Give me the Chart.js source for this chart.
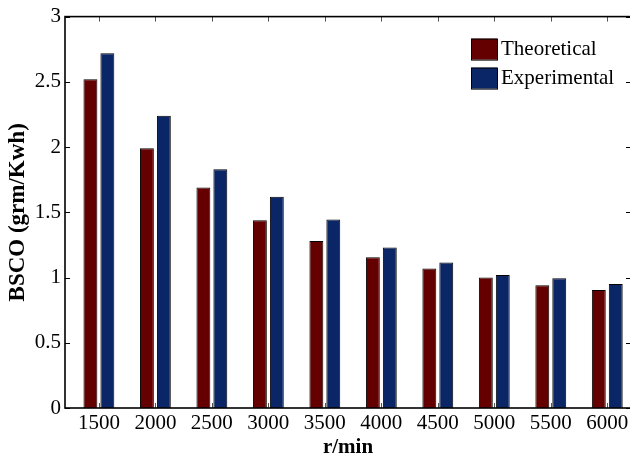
<!DOCTYPE html>
<html>
<head>
<meta charset="utf-8">
<script src="https://cdn.jsdelivr.net/npm/chart.js@4/dist/chart.umd.min.js"></script>
<style>
  html, body { margin: 0; padding: 0; background: #fff; overflow: hidden; }
  #wrap { width: 640px; height: 458px; }
</style>
</head>
<body>
<div id="wrap"><canvas id="bsco" width="640" height="458"></canvas></div>
<script>
// engine speed (r/min)
const rpm = [1500, 2000, 2500, 3000, 3500, 4000, 4500, 5000, 5500, 6000];
// BSCO values
const theoretical = [2.52, 1.99, 1.69, 1.44, 1.28, 1.155, 1.07, 1.0, 0.94, 0.905];
const experimental = [2.72, 2.24, 1.83, 1.62, 1.445, 1.23, 1.115, 1.02, 0.995, 0.95];
const yTicks = [0, 0.5, 1, 1.5, 2, 2.5, 3];

const serif = "'Liberation Serif', 'DejaVu Serif', serif";

// matlab style box with inward ticks + legend inside the plot
const framePlugin = {
  id: 'frame',
  afterDatasetsDraw(chart) {
    const ctx = chart.ctx;
    const a = chart.chartArea;
    const x = chart.scales.x;
    const y = chart.scales.y;
    ctx.save();
    ctx.strokeStyle = '#000';
    ctx.lineWidth = 1;
    y.ticks.forEach(t => {
      const py = Math.round(y.getPixelForValue(t.value)) + 0.5;
      ctx.beginPath();
      ctx.moveTo(a.left, py); ctx.lineTo(a.left + 5, py);
      ctx.moveTo(a.right, py); ctx.lineTo(a.right - 5, py);
      ctx.stroke();
    });
    ctx.strokeStyle = '#555';
    x.ticks.forEach(t => {
      const px = Math.round(x.getPixelForValue(t.value)) + 0.5;
      ctx.beginPath();
      ctx.moveTo(px, a.top); ctx.lineTo(px, a.top + 5);
      ctx.moveTo(px, a.bottom); ctx.lineTo(px, a.bottom - 5);
      ctx.stroke();
    });
    ctx.strokeStyle = '#000';
    ctx.lineWidth = 1.6;
    ctx.strokeRect(a.left, a.top, a.right - a.left, a.bottom - a.top);
    ctx.restore();
  },
  afterDraw(chart) {
    const ctx = chart.ctx;
    const a = chart.chartArea;
    ctx.save();
    ctx.font = "21px " + serif;
    ctx.textBaseline = 'middle';
    ctx.textAlign = 'left';
    chart.data.datasets.forEach((ds, i) => {
      const bx = a.right - 160;
      const by = a.top + 22 + i * 29;
      ctx.fillStyle = ds.backgroundColor;
      ctx.fillRect(bx, by, 26, 21);
      ctx.strokeStyle = '#000';
      ctx.lineWidth = 1;
      ctx.strokeRect(bx + 0.5, by + 0.5, 26, 21);
      ctx.fillStyle = '#000';
      ctx.fillText(ds.label, bx + 30, by + 11);
    });
    ctx.restore();
  }
};

new Chart(document.getElementById('bsco').getContext('2d'), {
  type: 'bar',
  data: {
    datasets: [
      {
        label: 'Theoretical',
        backgroundColor: '#650000',
        borderColor: '#000',
        borderWidth: 1,
        data: rpm.map((v, i) => ({ x: v, y: theoretical[i] }))
      },
      {
        label: 'Experimental',
        backgroundColor: '#0b2667',
        borderColor: '#000',
        borderWidth: 1,
        data: rpm.map((v, i) => ({ x: v, y: experimental[i] }))
      }
    ]
  },
  options: {
    responsive: false,
    animation: false,
    categoryPercentage: 0.6,
    barPercentage: 0.82,
    layout: { padding: { top: 16, right: 9, left: 0, bottom: 0 } },
    plugins: {
      legend: { display: false },
      tooltip: { enabled: false }
    },
    scales: {
      x: {
        type: 'linear',
        offset: false,
        min: 1200,
        max: 6210,
        afterBuildTicks: (scale) => { scale.ticks = rpm.map(v => ({ value: v })); },
        afterFit: (scale) => { scale.height = 50; },
        grid: { display: false, drawTicks: false, offset: false },
        border: { display: false },
        ticks: {
          color: '#000',
          padding: 3,
          maxRotation: 0,
          autoSkip: false,
          font: { family: serif, size: 21 },
          callback: (v) => String(v)
        },
        title: {
          display: true,
          text: 'r/min',
          color: '#000',
          padding: { top: 0, bottom: 0 },
          font: { family: serif, size: 21, weight: 'bold', lineHeight: 1 }
        }
      },
      y: {
        min: 0,
        max: 3,
        afterBuildTicks: (scale) => { scale.ticks = yTicks.map(v => ({ value: v })); },
        afterFit: (scale) => { scale.width = 65; },
        grid: { display: false, drawTicks: false },
        border: { display: false },
        ticks: {
          color: '#000',
          padding: 4,
          font: { family: serif, size: 21 },
          callback: (v) => String(v)
        },
        title: {
          display: true,
          text: 'BSCO (grm/Kwh)',
          color: '#000',
          padding: { top: 7, bottom: 0 },
          font: { family: serif, size: 23, weight: 'bold', lineHeight: 1 }
        }
      }
    }
  },
  plugins: [framePlugin]
});
</script>
</body>
</html>
